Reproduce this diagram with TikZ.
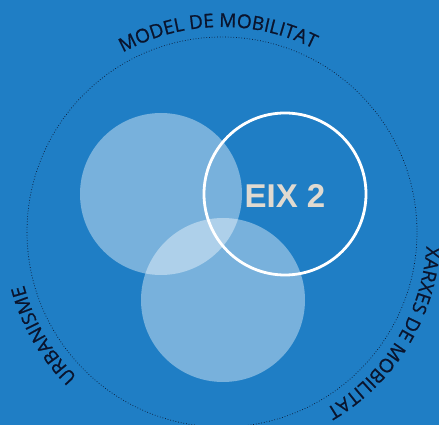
\documentclass[tikz,border=0pt]{standalone}
\usepackage{fontspec}
\setmainfont{Open Sans}
\newfontfamily\labfont{Open Sans}[FakeBold=0.8]
\newfontfamily\eixfont{Liberation Sans}
\usetikzlibrary{decorations.text}
\definecolor{B1}{RGB}{31,126,197}
\definecolor{N1}{RGB}{10,20,45}
\definecolor{G1}{RGB}{224,218,208}

\begin{document}
\begin{tikzpicture}[x=1pt, y=1pt]
      \fill[B1] (0,0) rectangle (439,425);
      \useasboundingbox (0,0) rectangle (439,425);
      \coordinate (c) at (222,193);
      \draw[N1, line width=0.7pt, dotted] (c) circle[radius=195];
      \fill[white, opacity=0.4] (161,231) circle[radius=81];
      \fill[white, opacity=0.4] (223,125) circle[radius=82];
      \draw[white, line width=2.8pt] (285,231) circle[radius=81];
      \node[G1, font=\eixfont\bfseries\fontsize{33}{33}\selectfont] (eix) at (285,229) {EIX 2};
      \path[decorate, decoration={text along path, text align=center,
        text={|\color{N1}\labfont\fontsize{19}{19}\selectfont|MODEL DE MOBILITAT}}]
        (c) ++(151.2:205) arc[start angle=151.2, end angle=31.2, radius=205];
      \path[decorate, decoration={text along path, text align=center,
        text={|\color{N1}\labfont\fontsize{19}{19}\selectfont|URBANISME}}]
        (c) ++(242:205) arc[start angle=242, end angle=178, radius=205];
      \path[decorate, decoration={text along path, text align=left,
        text={|\color{N1}\labfont\fontsize{19}{19}\selectfont|XARXES DE MOBILITAT}}]
        (c) ++(-4:205) arc[start angle=-4, end angle=-120, radius=205];
\end{tikzpicture}
\end{document}
